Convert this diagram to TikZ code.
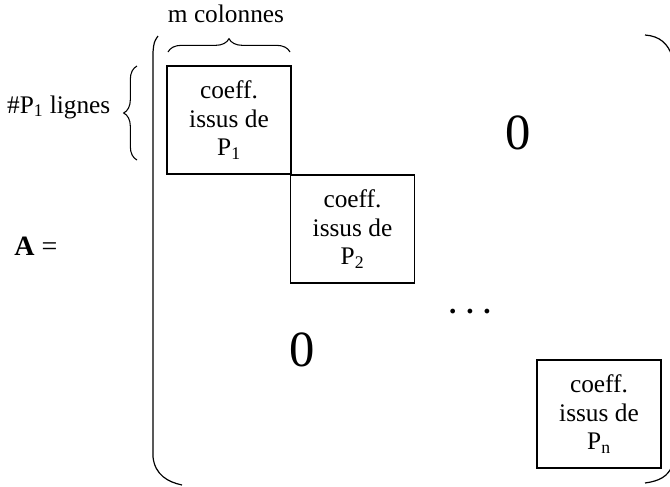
\documentclass[tikz,border=0pt]{standalone}
\usepackage{fontspec}
\setmainfont{Liberation Serif}
\usetikzlibrary{decorations.pathreplacing}

\begin{document}
\begin{tikzpicture}[x=0.75pt, y=-0.75pt,
    bloc/.style={draw, line width=1pt, minimum width=93pt, minimum height=81pt, align=center, inner sep=0pt, font=\fontsize{19}{21.5}\selectfont},
    zero/.style={font=\fontsize{38}{40}\selectfont},
    label/.style={font=\fontsize{19}{22}\selectfont},
    accolade/.style={decorate, decoration={brace, amplitude=10pt}, line width=0.8pt}]
    \useasboundingbox (0,0) rectangle (670,486);

    % Draw blocks
    \node[bloc] (bloc1) at (229,120) {coeff.\\issus de\\P\textsubscript{1}};
    \node[bloc] (bloc2) at (352.5,229) {coeff.\\issus de\\P\textsubscript{2}};
    \node[bloc] (blocn) at (599,414) {coeff.\\issus de\\P\textsubscript{n}};

    % Zeros and dots
    \node[zero] (zeroHaut) at (518,133) {0};
    \node[zero] (zeroBas) at (302,350) {0};
    \node[font=\fontsize{22}{24}\selectfont\bfseries] (points) at (470,312) {. . .};

    % Labels
    \node[font=\fontsize{21}{24}\selectfont] (matA) at (36,246) {\textbf{A} =};
    \node[label] (colonnes) at (226,14) {m colonnes};
    \node[label, anchor=east] (lignes) at (115,107) {\#P\textsubscript{1} lignes};

    % Braces
    \draw[accolade] (168,52) -- (290,52);
    \draw[accolade] (137,160) -- (137,66);

    % Parentheses
    \draw[line width=0.9pt] (158,36) .. controls (154,42) .. (153,52) -- (153,457) .. controls (155,475) and (168,482) .. (182,485);
    \draw[line width=0.9pt] (645,35) .. controls (660,36) and (668,44) .. (672,56);
    \draw[line width=0.9pt] (645,483) .. controls (660,481) and (668,476) .. (672,466);
\end{tikzpicture}
\end{document}
